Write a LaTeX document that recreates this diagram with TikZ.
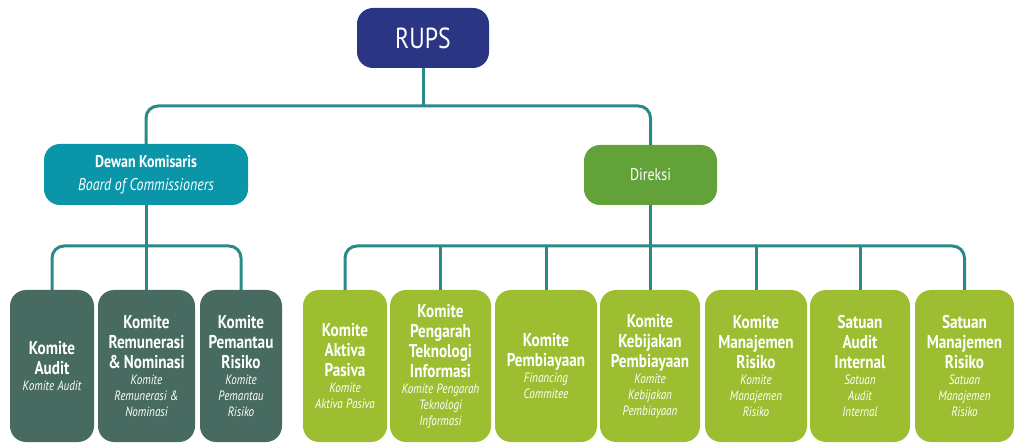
\documentclass[tikz,border=0pt]{standalone}
\usepackage{fontspec}
\setmainfont{PT Sans}[FakeStretch=0.82]
\definecolor{navy}{HTML}{2A3584}
\definecolor{teal}{HTML}{0A96A8}
\definecolor{direk}{HTML}{62A238}
\definecolor{dgreen}{HTML}{476B60}
\definecolor{lgreen}{HTML}{9DBE31}
\definecolor{conncol}{HTML}{2A8A88}
\newcommand{\ttl}[1]{{\fontsize{18.5}{20}\selectfont\bfseries #1\par}}
\newcommand{\subt}[1]{{\fontsize{13.5}{16}\selectfont\itshape #1\par}}
\tikzset{
  box/.style={rounded corners=16pt, text=white, inner sep=2pt, align=center},
  child/.style={box, minimum height=152pt, text width=#1, minimum width=#1},
  dbox/.style={child=#1, fill=dgreen},
  gbox/.style={child=#1, fill=lgreen},
  conn/.style={draw=conncol, line width=3pt, rounded corners=12pt},
}
\begin{document}
\begin{tikzpicture}[x=1pt,y=-1pt]
\useasboundingbox (0,0) rectangle (1014,443);
\node[box, fill=navy, minimum width=132pt, minimum height=60pt] (rups) at (423,38)
  {\fontsize{29}{30}\selectfont RUPS};
\node[box, fill=teal, minimum width=204pt, minimum height=61pt,
  font=\fontsize{17}{23}\selectfont] (dewan) at (146,174.5)
  {\bfseries Dewan Komisaris\\\itshape Board of Commissioners};
\node[box, fill=direk, minimum width=133pt, minimum height=60pt] (direksi) at (650.5,175)
  {\fontsize{17}{20}\selectfont Direksi};

\coordinate (bus0) at (0,106);
\coordinate (busL) at (0,246);
\coordinate (busR) at (0,246);

% children of Dewan
\node[dbox=80pt] (c1) at (52,366) {\ttl{Komite\\Audit}\subt{Komite Audit}};
\node[dbox=93pt] (c2) at (146.5,366) {\ttl{Komite\\Remunerasi\\\& Nominasi}\subt{Komite\\Remunerasi \&\\Nominasi}};
\node[dbox=78pt] (c3) at (241,366) {\ttl{Komite\\Pemantau\\Risiko}\subt{Komite\\Pemantau\\Risiko}};

% children of Direksi
\node[gbox=80pt] (d1) at (345,366) {\ttl{Komite\\Aktiva\\Pasiva}\subt{Komite\\Aktiva Pasiva}};
\node[gbox=97pt] (d2) at (440.5,366) {\ttl{Komite\\Pengarah\\Teknologi\\Informasi}\subt{Komite Pengarah\\Teknologi\\Informasi}};
\node[gbox=98pt] (d3) at (546,366) {\ttl{Komite\\Pembiayaan}\subt{Financing\\Commitee}};
\node[gbox=96pt] (d4) at (650,366) {\ttl{Komite\\Kebijakan\\Pembiayaan}\subt{Komite\\Kebijakan\\Pembiayaan}};
\node[gbox=98pt] (d5) at (756,366) {\ttl{Komite\\Manajemen\\Risiko}\subt{Komite\\Manajemen\\Risiko}};
\node[gbox=96pt] (d6) at (860,366) {\ttl{Satuan\\Audit\\Internal}\subt{Satuan\\Audit\\Internal}};
\node[gbox=95pt] (d7) at (964.5,366) {\ttl{Satuan\\Manajemen\\Risiko}\subt{Satuan\\Manajemen\\Risiko}};

% connectors
\draw[conn] (dewan.north) |- (rups.south |- bus0) -| (direksi.north);
\draw[conn] (rups.south) -- (rups.south |- bus0);

\draw[conn] (c1.north) |- (c2.north |- busL) -| (c3.north);
\draw[conn] (c2.north) -- (c2.north |- busL);
\draw[conn] (dewan.south) -- (dewan.south |- busL);

\draw[conn] (d1.north) |- (d4.north |- busR) -| (d7.north);
\foreach \n in {d2,d3,d4,d5,d6} {\draw[conn] (\n.north) -- (\n.north |- busR);}
\draw[conn] (direksi.south) -- (direksi.south |- busR);
\end{tikzpicture}
\end{document}
